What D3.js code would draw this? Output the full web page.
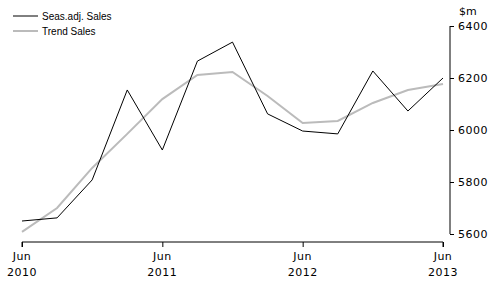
<!DOCTYPE html>
<html>
<head>
<meta charset="utf-8">
<script src="https://cdn.jsdelivr.net/npm/d3@7"></script>
<style>
  body { margin: 0; background: #fff; }
  text { fill: #000; }
  .tick text, .axis-label { font-family: "DejaVu Sans", Verdana, sans-serif; font-size: 11px; letter-spacing: 0.5px; }
  .legend text { font-family: "Liberation Sans", Arial, sans-serif; font-size: 10px; }
</style>
</head>
<body>
<div id="chart"></div>
<script>
var quarters = ["Jun 2010", "Sep 2010", "Dec 2010", "Mar 2011", "Jun 2011", "Sep 2011", "Dec 2011",
    "Mar 2012", "Jun 2012", "Sep 2012", "Dec 2012", "Mar 2013", "Jun 2013"];
var seasAdj = [5650, 5662, 5808, 6154, 5923, 6265, 6338, 6062, 5996, 5985, 6227, 6073, 6200];
var trend = [5608, 5700, 5854, 5985, 6119, 6212, 6223, 6131, 6027, 6035, 6104, 6154, 6177];
var yTicks = [5600, 5800, 6000, 6200, 6400];
var xTickIdx = [0, 4, 8, 12];
var xTickLabels = [["Jun", "2010"], ["Jun", "2011"], ["Jun", "2012"], ["Jun", "2013"]];

var width = 496, height = 284;
var margin = {top: 26, right: 46, bottom: 42, left: 22};

var svg = d3.select("#chart").append("svg")
    .attr("width", width)
    .attr("height", height);

var x = d3.scaleLinear()
    .domain([0, quarters.length - 1])
    .range([margin.left, width - margin.right - 7]);

var y = d3.scaleLinear()
    .domain([5600, 6400])
    .range([height - margin.bottom - 8, margin.top]);

// right axis
var yAxis = svg.append("g")
    .attr("transform", "translate(" + (width - margin.right) + ",0)")
    .call(d3.axisRight(y).tickValues(yTicks).tickSize(4).tickPadding(4).tickFormat(d3.format("d")));
yAxis.select(".domain").attr("d", "M0," + y(5600) + "V" + y(6400));
yAxis.selectAll("text").attr("font-size", null).attr("font-family", null);

svg.append("text")
    .attr("class", "axis-label")
    .attr("x", width - margin.right + 9)
    .attr("y", 15)
    .style("letter-spacing", "0px")
    .text("$m");

// bottom axis
var xAxis = svg.append("g")
    .attr("transform", "translate(0," + (height - margin.bottom) + ")")
    .call(d3.axisBottom(x).tickValues(xTickIdx).tickSize(5).tickFormat(""));
xAxis.select(".domain").attr("d", "M" + x(0) + ",5V0H" + x(12) + "V5");

xTickIdx.forEach(function (d, i) {
    var t = svg.append("text")
        .attr("class", "axis-label")
        .attr("text-anchor", "middle")
        .attr("y", height - margin.bottom + 18);
    t.append("tspan").attr("x", x(d)).text(xTickLabels[i][0]);
    t.append("tspan").attr("x", x(d)).attr("dy", 16).text(xTickLabels[i][1]);
});

var line = d3.line()
    .x(function (d, i) { return x(i); })
    .y(function (d) { return y(d); });

svg.append("path")
    .datum(trend)
    .attr("fill", "none")
    .attr("stroke", "#bbbbbb")
    .attr("stroke-width", 2)
    .attr("d", line);

svg.append("path")
    .datum(seasAdj)
    .attr("fill", "none")
    .attr("stroke", "#000")
    .attr("stroke-width", 1)
    .attr("d", line);

// legend
var legend = [["Seas.adj. Sales", "#000", 1], ["Trend Sales", "#bbbbbb", 2]];
var lg = svg.append("g").attr("class", "legend");
legend.forEach(function (d, i) {
    var ly = 16 + i * 15;
    lg.append("line")
        .attr("x1", 13).attr("x2", 38)
        .attr("y1", ly).attr("y2", ly)
        .attr("stroke", d[1])
        .attr("stroke-width", d[2]);
    lg.append("text")
        .attr("x", 42)
        .attr("y", ly + 4)
        .text(d[0]);
});
</script>
</body>
</html>
